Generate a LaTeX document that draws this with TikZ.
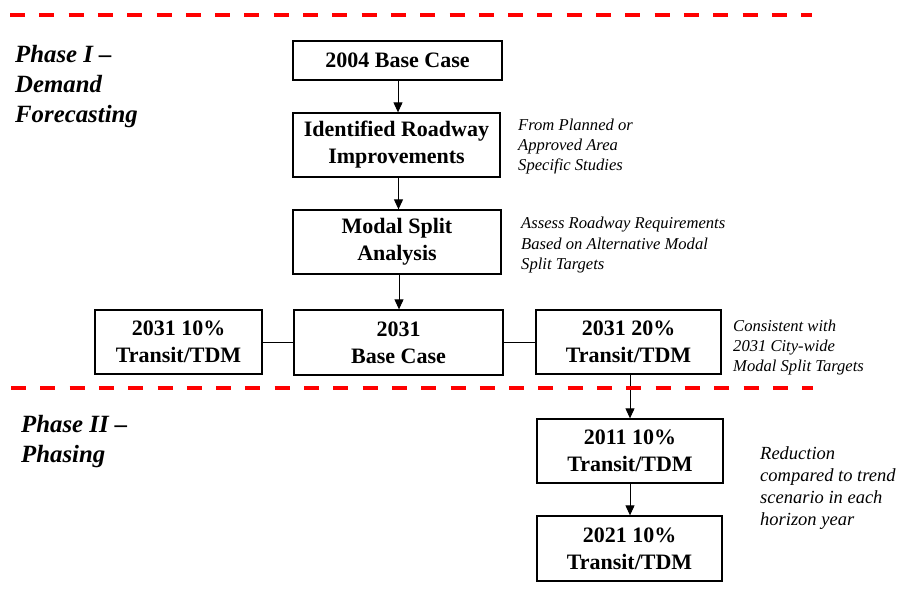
\documentclass[tikz,border=0pt]{standalone}
\usepackage{fontspec}
\setmainfont{Liberation Serif}
\usetikzlibrary{arrows.meta}
\tikzset{
  box/.style={draw, line width=1.3pt, inner sep=0pt, align=center,
    font=\bfseries\fontsize{22}{27}\selectfont},
  note/.style={anchor=base west, inner sep=0pt, align=left,
    font=\itshape\fontsize{16.6}{20}\selectfont},
  phase/.style={anchor=base west, inner sep=0pt, align=left,
    font=\bfseries\itshape\fontsize{24.8}{30}\selectfont},
  arr/.style={line width=1pt, -{Triangle[length=10pt,width=9pt]}},
  link/.style={line width=1pt},
  redline/.style={draw=red, line width=4.5pt, dash pattern=on 15pt off 14.3pt}
}
\begin{document}
\begin{tikzpicture}[x=1pt,y=-1pt]
\useasboundingbox (0,0) rectangle (900,607);
% boxes
\node[box, minimum width=209pt, minimum height=39pt] (b2004) at (397.5,60.5) {2004 Base Case};
\node[box, minimum width=207pt, minimum height=64pt] (bident) at (396.5,145) {Identified Roadway\\Improvements};
\node[box, minimum width=208pt, minimum height=64pt] (bmodal) at (397,242) {Modal Split\\Analysis};
\node[box, minimum width=209pt, minimum height=65pt] (bbase) at (398.5,342.5) {2031\\Base Case};
\node[box, minimum width=167pt, minimum height=64pt] (b10) at (178.5,342) {2031 10\%\\Transit/TDM};
\node[box, minimum width=185pt, minimum height=64pt] (b20) at (628.5,342) {2031 20\%\\Transit/TDM};
\node[box, minimum width=186pt, minimum height=64pt] (b2011) at (630,451) {2011 10\%\\Transit/TDM};
\node[box, minimum width=185pt, minimum height=65pt] (b2021) at (629.5,548.5) {2021 10\%\\Transit/TDM};
% connectors
\draw[arr] (b2004.south -| 398,0) -- (bident.north -| 398,0);
\draw[arr] (bident.south -| 398.5,0) -- (bmodal.north -| 398.5,0);
\draw[arr] (bmodal.south -| 399,0) -- (bbase.north -| 399,0);
\draw[link] (b10.east) -- (b10.east -| bbase.west);
\draw[link] (bbase.east) -- (bbase.east -| b20.west);
\draw[arr] (b20.south -| b2011.north) -- (b2011.north);
\draw[arr] (b2011.south) -- (b2011.south |- b2021.north);
% notes
\node[note] (n1) at (518,171) {From Planned or\\Approved Area\\Specific Studies};
\node[note] (n2) at (521,269) {Assess Roadway Requirements\\Based on Alternative Modal\\Split Targets};
\node[note] (n3) at (733,371) {Consistent with\\2031 City-wide\\Modal Split Targets};
\node[note, font=\itshape\fontsize{18.5}{21.7}\selectfont] (n4) at (760,525) {Reduction\\compared to trend\\scenario in each\\horizon year};
% phase labels
\node[phase] (p1) at (15,123) {Phase I --\\Demand\\Forecasting};
\node[phase] (p2) at (21,462) {Phase II --\\Phasing};
% red dashed separators
\coordinate (r1a) at (10,15);
\coordinate (r1b) at (812,15);
\coordinate (r2a) at (11,388);
\coordinate (r2b) at (813,388);
\draw[redline] (r1a) -- (r1b);
\draw[redline] (r2a) -- (r2b);
\end{tikzpicture}
\end{document}
